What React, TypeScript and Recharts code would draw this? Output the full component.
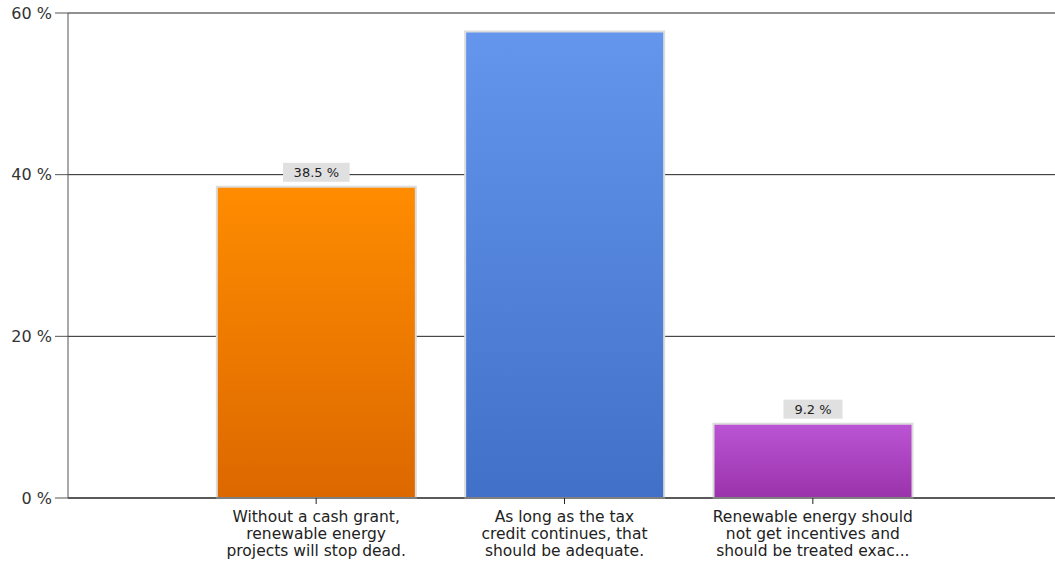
import { Bar, BarChart, CartesianGrid, Cell, LabelList, XAxis, YAxis } from "recharts";

const categories = [
  "Without a cash grant, renewable energy projects will stop dead.",
  "As long as the tax credit continues, that should be adequate.",
  "Renewable energy should not get incentives and should be treated exac...",
];
const tickLines = [
  ["Without a cash grant,", "renewable energy", "projects will stop dead."],
  ["As long as the tax", "credit continues, that", "should be adequate."],
  ["Renewable energy should", "not get incentives and", "should be treated exac..."],
];
const values = [38.5, 57.7, 9.2];
const labels = ["38.5 %", null, "9.2 %"];
const yTicks = [0, 20, 40, 60];

const gradients = [
  ["#ff8c00", "#dc6800"],
  ["#6496ed", "#4170c8"],
  ["#bb55d4", "#9a32aa"],
];

const data = categories.map((name, i) => ({ name, value: values[i], label: labels[i] }));

const font = "'DejaVu Sans', Verdana, sans-serif";

function XTick({ x, y, payload }: any) {
  const i = categories.indexOf(payload.value);
  const lines = tickLines[i] || [payload.value];
  return (
    <text x={x} y={y + 16} textAnchor="middle" fontSize={15.5} fill="#222" fontFamily={font}>
      {lines.map((l, k) => (
        <tspan key={k} x={x} dy={k === 0 ? 0 : 17}>{l}</tspan>
      ))}
    </text>
  );
}

function ValueLabel({ x, y, width, value }: any) {
  if (!value) return null;
  const cx = x + width / 2;
  const w = value.length * 7.6 + 21;
  return (
    <g>
      <rect x={cx - w / 2} y={y - 24} width={w} height={19} fill="#e0e0e0" />
      <text x={cx} y={y - 10} textAnchor="middle" fontSize={13} fill="#222" fontFamily={font}>{value}</text>
    </g>
  );
}

export default function App() {
  return (
    <div style={{ position: "absolute", left: 0, top: 0, background: "#fff" }}>
      <BarChart
        width={1055}
        height={565}
        data={data}
        margin={{ top: 13, right: 0, left: 0, bottom: 0 }}
        barCategoryGap="10%"
      >
        <defs>
          {gradients.map((g, i) => (
            <linearGradient key={i} id={`g${i}`} x1="0" y1="0" x2="0" y2="1">
              <stop offset="0%" stopColor={g[0]} />
              <stop offset="100%" stopColor={g[1]} />
            </linearGradient>
          ))}
        </defs>
        <CartesianGrid vertical={false} stroke="#222" />
        <XAxis
          dataKey="name"
          interval={0}
          height={67}
          padding={{ left: 124, right: 118 }}
          stroke="#222"
          tickSize={6}
          tick={<XTick />}
        />
        <YAxis
          domain={[0, 60]}
          ticks={yTicks}
          width={68}
          tickSize={13}
          tickMargin={3}
          stroke="#555"
          tickFormatter={(v) => `${v} %`}
          tick={{ fontSize: 16, fill: "#333", fontFamily: font }}
        />
        <Bar dataKey="value" stroke="#dcdcdc" strokeWidth={2} isAnimationActive={false}>
          {data.map((_, i) => (
            <Cell key={i} fill={`url(#g${i})`} />
          ))}
          <LabelList dataKey="label" content={<ValueLabel />} />
        </Bar>
      </BarChart>
    </div>
  );
}
